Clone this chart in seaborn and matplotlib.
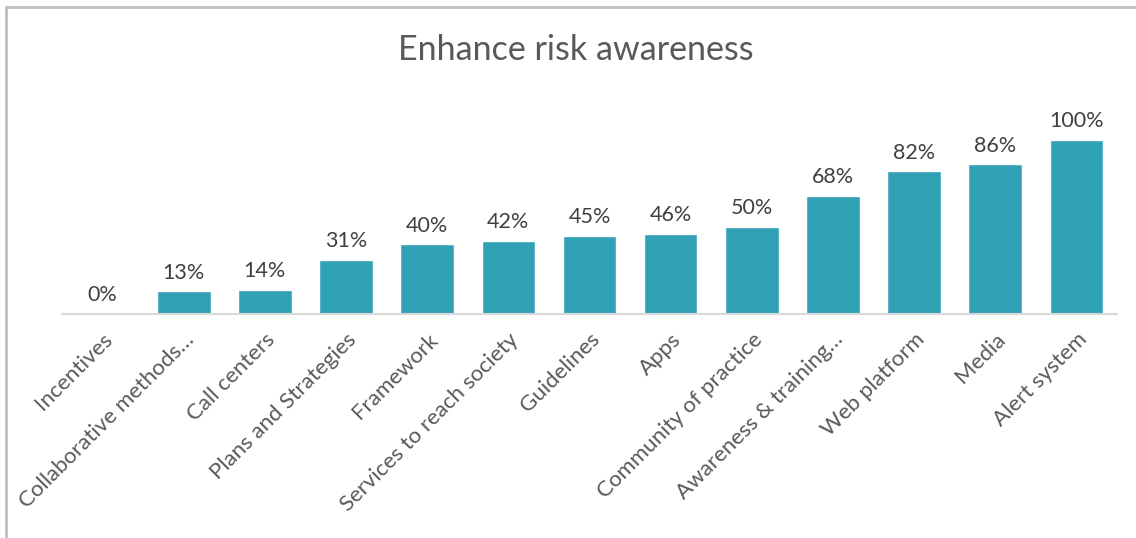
import matplotlib
matplotlib.use("Agg")
import matplotlib.pyplot as plt
import seaborn as sns
import pandas as pd
from matplotlib.patches import Rectangle

categories = ["Incentives", "Collaborative methods\u2026", "Call centers", "Plans and Strategies",
              "Framework", "Services to reach society", "Guidelines", "Apps",
              "Community of practice", "Awareness & training\u2026", "Web platform", "Media",
              "Alert system"]
values = [0, 13, 14, 31, 40, 42, 45, 46, 50, 68, 82, 86, 100]
title = "Enhance risk awareness"

sns.set_theme(style="white")
plt.rcParams['font.family'] = ['Lato', 'DejaVu Sans']

df = pd.DataFrame({"cat": categories, "val": values})

fig = plt.figure(figsize=(11.36, 5.38), dpi=100)
ax = fig.add_axes([62/1136, 1-314/538, (1117-62)/1136, (314-110)/538])
sns.barplot(data=df, x="cat", y="val", color="#31A1B6", saturation=1, width=0.66, ax=ax)
ax.set_ylim(0, 100*(314-110)/174)
ax.set_xlim(-0.5, len(categories)-0.5)
for p, v in zip(ax.patches, values):
    ax.text(p.get_x()+p.get_width()/2, v + 5, f"{v}%", ha="center", va="bottom",
            fontsize=15.5, color="#404040")
ax.set_xlabel("")
ax.set_ylabel("")
ax.set_yticks([])
for s in ["top", "right", "left"]:
    ax.spines[s].set_visible(False)
ax.spines["bottom"].set_color("#D9D9D9")
ax.spines["bottom"].set_linewidth(1.5)
ax.tick_params(axis="x", length=0, pad=11)
ax.set_xticks(range(len(categories)))
ax.set_xticklabels(categories, rotation=45, ha="right", rotation_mode="anchor",
                   fontsize=16, color="#595959")

fig.text(576/1136, 1-50/538, title, ha="center", va="center", fontsize=24.5, color="#595959")
fig.patches.append(Rectangle((6/1136, -0.1), 1.2, 1-7/538+0.1, transform=fig.transFigure,
                             fill=False, edgecolor="#BFBFBF", linewidth=2))
fig.savefig("out.png", dpi=100)
